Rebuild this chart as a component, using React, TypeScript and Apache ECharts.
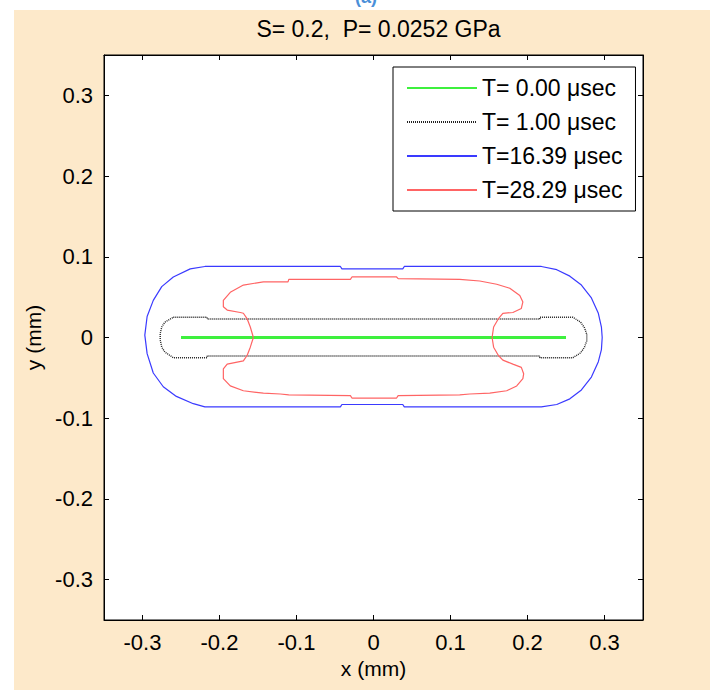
import React, { useEffect, useRef } from "react";
import * as echarts from "echarts";

const TITLE = "S= 0.2,  P= 0.0252 GPa";
const X_NAME = "x (mm)";
const Y_NAME = "y (mm)";
const TICKS = [-0.3, -0.2, -0.1, 0, 0.1, 0.2, 0.3];
const SERIES_NAMES = ["T= 0.00 \u03bcsec", "T= 1.00 \u03bcsec", "T=16.39 \u03bcsec", "T=28.29 \u03bcsec"];

const green: number[][] = [[-0.25, 0], [0.25, 0]];

const black: number[][] = [
  [-0.260, 0.025], [-0.216, 0.025], [-0.216, 0.023], [0.216, 0.023], [0.216, 0.025], [0.259, 0.025],
  [0.269, 0.019], [0.274, 0.012], [0.277, 0.004], [0.277, -0.004], [0.274, -0.012], [0.269, -0.019],
  [0.259, -0.025], [0.216, -0.025], [0.216, -0.023], [-0.216, -0.023], [-0.216, -0.025], [-0.260, -0.025],
  [-0.271, -0.018], [-0.275, -0.012], [-0.277, -0.003], [-0.277, 0.005], [-0.275, 0.013], [-0.271, 0.019],
  [-0.260, 0.025],
];

const blue: number[][] = [
  [-0.219, 0.088], [-0.043, 0.088], [-0.041, 0.085], [0.038, 0.085], [0.040, 0.088], [0.218, 0.088],
  [0.238, 0.084], [0.255, 0.076], [0.270, 0.065], [0.283, 0.049], [0.292, 0.030], [0.296, 0.013],
  [0.297, 0.000], [0.296, -0.015], [0.292, -0.030], [0.283, -0.049], [0.270, -0.065], [0.255, -0.076],
  [0.238, -0.083], [0.218, -0.086], [0.040, -0.086], [0.038, -0.083], [-0.041, -0.083], [-0.043, -0.086],
  [-0.219, -0.086], [-0.234, -0.082], [-0.256, -0.073], [-0.273, -0.061], [-0.286, -0.044], [-0.294, -0.020],
  [-0.297, 0.003], [-0.294, 0.026], [-0.286, 0.046], [-0.275, 0.063], [-0.260, 0.075], [-0.238, 0.085],
  [-0.219, 0.088],
];

const red: number[][] = [
  [-0.156, 0.000], [-0.160, 0.013], [-0.164, 0.023], [-0.169, 0.030], [-0.173, 0.031], [-0.190, 0.034],
  [-0.195, 0.038], [-0.195, 0.046], [-0.186, 0.056], [-0.169, 0.065], [-0.143, 0.069], [-0.111, 0.069],
  [-0.110, 0.072], [-0.030, 0.072], [-0.028, 0.075], [0.030, 0.075], [0.032, 0.073], [0.112, 0.072],
  [0.138, 0.070], [0.160, 0.066], [0.177, 0.061], [0.190, 0.052], [0.194, 0.044], [0.192, 0.036],
  [0.181, 0.031], [0.168, 0.030], [0.162, 0.023], [0.156, 0.013], [0.154, 0.000], [0.156, -0.012],
  [0.162, -0.022], [0.168, -0.028], [0.181, -0.033], [0.192, -0.037], [0.195, -0.045], [0.194, -0.051],
  [0.186, -0.060], [0.173, -0.066], [0.151, -0.069], [0.125, -0.070], [0.112, -0.071], [0.032, -0.072],
  [0.030, -0.075], [-0.028, -0.075], [-0.030, -0.072], [-0.110, -0.071], [-0.121, -0.070], [-0.143, -0.069],
  [-0.169, -0.066], [-0.186, -0.060], [-0.195, -0.051], [-0.195, -0.039], [-0.190, -0.033], [-0.169, -0.029],
  [-0.164, -0.022], [-0.160, -0.012], [-0.156, 0.000],
];

const FONT = "'Liberation Sans', Arial, sans-serif";

export default function App() {
  const ref = useRef<HTMLDivElement>(null);
  useEffect(() => {
    if (!ref.current) return;
    const chart = echarts.init(ref.current, undefined, { renderer: "svg" });
    const axisCommon = (show: boolean) => ({
      type: "value" as const,
      min: -0.35,
      max: 0.35,
      axisLine: { show: true, onZero: false, lineStyle: { color: "#000", width: 1 } },
      axisTick: { show: true, inside: true, length: 5, customValues: TICKS, lineStyle: { color: "#000" } },
      axisLabel: {
        show,
        customValues: TICKS,
        color: "#000",
        fontSize: 22,
        fontFamily: FONT,
        margin: 11,
      },
      splitLine: { show: false },
    });
    chart.setOption({
      animation: false,
      backgroundColor: "#ffffff",
      title: {
        text: TITLE,
        left: 373.5,
        top: 12,
        textAlign: "center",
        textStyle: { fontSize: 23, fontWeight: "normal", fontFamily: FONT, color: "#000" },
      },
      graphic: [
        { type: "rect", z: -10, shape: { x: 14, y: 10, width: 696, height: 680 }, style: { fill: "#FDE9CA" } },
        {
          type: "text",
          x: 366,
          y: 6,
          z: -5,
          style: { text: "(a)", fill: "#4a8fd8", font: `bold 18px ${FONT}`, textAlign: "center", textVerticalAlign: "bottom" },
        },
      ],
      grid: {
        left: 104,
        top: 55,
        right: 72,
        bottom: 70,
        show: true,
        backgroundColor: "#ffffff",
        borderColor: "#000",
        borderWidth: 1,
      },
      legend: {
        orient: "vertical",
        left: 393,
        top: 67,
        padding: [9, 13, 9, 13],
        itemWidth: 70,
        itemHeight: 14,
        itemGap: 10,
        backgroundColor: "#fff",
        borderColor: "#000",
        borderWidth: 1,
        selectedMode: false,
        data: SERIES_NAMES,
        itemStyle: { opacity: 0, borderWidth: 0 },
        textStyle: { fontSize: 23, fontFamily: FONT, color: "#000", lineHeight: 24 },
      },
      xAxis: [
        {
          ...axisCommon(true),
          position: "bottom",
          name: X_NAME,
          nameLocation: "middle",
          nameGap: 37,
          nameTextStyle: { fontSize: 21, fontFamily: FONT, color: "#000" },
        },
        { ...axisCommon(false), position: "top" },
      ],
      yAxis: [
        {
          ...axisCommon(true),
          position: "left",
          name: Y_NAME,
          nameLocation: "middle",
          nameGap: 56,
          nameTextStyle: { fontSize: 21, fontFamily: FONT, color: "#000" },
        },
        { ...axisCommon(false), position: "right" },
      ],
      series: [
        {
          name: SERIES_NAMES[0], type: "line", data: green, symbol: "none",
          lineStyle: { color: "#3ef03e", width: 3 }, itemStyle: { color: "#3ef03e" },
        },
        {
          name: SERIES_NAMES[1], type: "line", data: black, symbol: "none",
          lineStyle: { color: "#222", width: 1.4, type: [1, 1] }, itemStyle: { color: "#222" },
        },
        {
          name: SERIES_NAMES[2], type: "line", data: blue, symbol: "none",
          lineStyle: { color: "#3a3aff", width: 1.2 }, itemStyle: { color: "#3a3aff" },
        },
        {
          name: SERIES_NAMES[3], type: "line", data: red, symbol: "none",
          lineStyle: { color: "#ff6464", width: 1.2 }, itemStyle: { color: "#ff6464" },
        },
      ],
    });
    return () => chart.dispose();
  }, []);
  return <div ref={ref} style={{ position: "absolute", left: 0, top: 0, width: 715, height: 690 }} />;
}
